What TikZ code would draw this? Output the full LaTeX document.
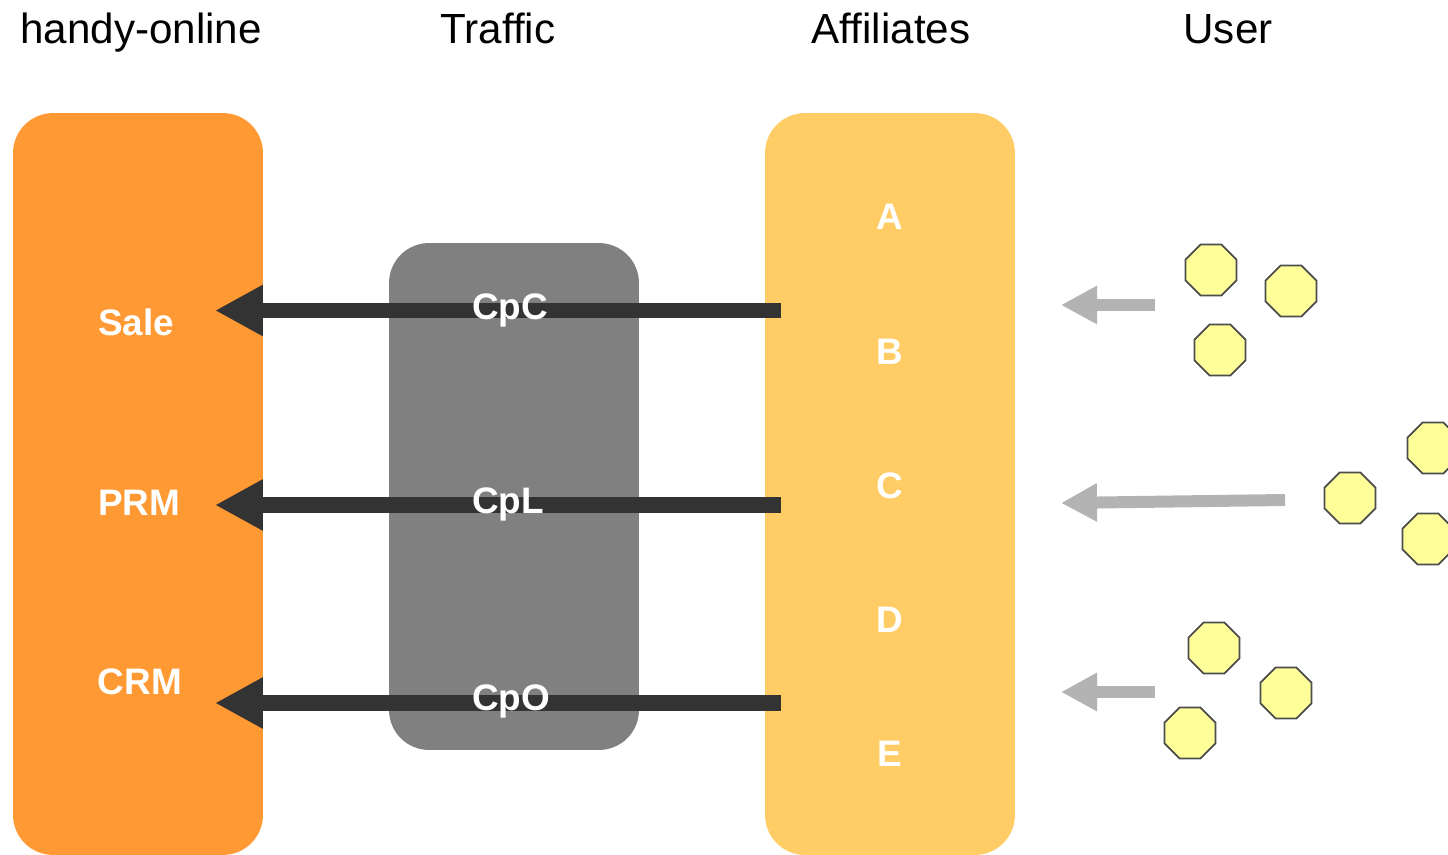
\documentclass[tikz,border=0pt]{standalone}
\usepackage{fontspec}
\setmainfont{Liberation Sans}
\usetikzlibrary{
  shapes.geometric,
  positioning,
  arrows.meta}
\definecolor{onlinecolor}{RGB}{255,153,51}
\definecolor{trafficcolor}{RGB}{128,128,128}
\definecolor{affiliatecolor}{RGB}{255,204,102}
\definecolor{flowcolor}{RGB}{51,51,51}
\definecolor{visitcolor}{RGB}{179,179,179}
\definecolor{usercolor}{RGB}{255,255,153}
\definecolor{userlinecolor}{RGB}{77,77,77}
\tikzset{
  %% heading : the column headings on top
  heading/.style={
    anchor=base,
    inner sep=0pt,
    font=\fontsize{24}{28}\selectfont
  },
  %% column : a tall rounded box
  column/.style={
    rectangle,
    rounded corners=0.8cm,
    minimum width=5cm,
    inner sep=0pt
  },
  %% boxtext : white bold text inside a column
  %%      ("label" is predefined and can't be used)
  boxtext/.style={
    anchor=base,
    inner sep=0pt,
    text=white,
    font=\fontsize{21}{25}\selectfont\bfseries
  },
  %% flow : the payment flow to handy-online
  flow/.style={
    flowcolor,
    line width=0.32cm,
    -{Triangle[length=0.96cm, width=0.96cm]}
  },
  %% visit : users coming to the affiliates
  visit/.style={
    visitcolor,
    line width=0.24cm,
    -{Triangle[length=0.72cm, width=0.72cm]}
  },
  %% user : a single user
  user/.style={
    regular polygon,
    regular polygon sides=8,
    minimum size=1.1cm,
    inner sep=0pt,
    fill=usercolor,
    draw=userlinecolor,
    line width=1pt
  }
}

\begin{document}
\begin{tikzpicture}
  [x=0.02cm,
  y=-0.02cm]

  \useasboundingbox (0, 0) rectangle (1448, 855);

  %% Headings
  \node (honline) [heading] at (141, 44) {handy-online};
  \node (htraffic) [heading] at (498, 44) {Traffic};
  \node (haffiliates) [heading] at (891, 44) {Affiliates};
  \node (huser) [heading] at (1228, 44) {User};

  %% Columns
  \node (online) [column, fill=onlinecolor, minimum height=14.84cm] at (138, 484) {};
  \node (traffic) [column, fill=trafficcolor, minimum height=10.14cm] at (514, 496.5) {};
  \node (affiliates) [column, fill=affiliatecolor, minimum height=14.84cm] at (890, 484) {};

  %% Payment flows
  \coordinate (cpcstart) at (781, 310.5);
  \coordinate (cpcend) at (215, 310.5);
  \coordinate (cplstart) at (781, 505);
  \coordinate (cplend) at (215, 505);
  \coordinate (cpostart) at (781, 703);
  \coordinate (cpoend) at (215, 703);
  \draw [flow] (cpcstart) -- (cpcend);
  \draw [flow] (cplstart) -- (cplend);
  \draw [flow] (cpostart) -- (cpoend);

  %% handy-online
  \node (sale) [boxtext] at (136, 335) {Sale};
  \node (prm) [boxtext] at (139, 515) {PRM};
  \node (crm) [boxtext] at (140, 694) {CRM};

  %% Traffic
  \node (cpc) [boxtext] at (510, 319) {CpC};
  \node (cpl) [boxtext] at (508, 513) {CpL};
  \node (cpo) [boxtext] at (511, 710) {CpO};

  %% Affiliates
  \node (a) [boxtext] at (890, 230) {A};
  \node (b) [boxtext] at (890, 364) {B};
  \node (c) [boxtext] at (890, 498) {C};
  \node (d) [boxtext] at (890, 632) {D};
  \node (e) [boxtext] at (890, 766) {E};

  %% Users
  \node (user1) [user] at (1211, 270) {};
  \node (user2) [user] at (1291, 291) {};
  \node (user3) [user] at (1220, 350) {};
  \node (user4) [user] at (1433, 448) {};
  \node (user5) [user] at (1350, 498) {};
  \node (user6) [user] at (1428, 539) {};
  \node (user7) [user] at (1214, 648) {};
  \node (user8) [user] at (1286, 693) {};
  \node (user9) [user] at (1190, 733) {};

  %% Visits
  \coordinate (visit1start) at (1155, 305);
  \coordinate (visit1end) at (1061, 305);
  \coordinate (visit2start) at (1285, 500);
  \coordinate (visit2end) at (1061, 503);
  \coordinate (visit3start) at (1155, 692);
  \coordinate (visit3end) at (1061, 692);
  \draw [visit] (visit1start) -- (visit1end);
  \draw [visit] (visit2start) -- (visit2end);
  \draw [visit] (visit3start) -- (visit3end);

\end{tikzpicture}
\end{document}
